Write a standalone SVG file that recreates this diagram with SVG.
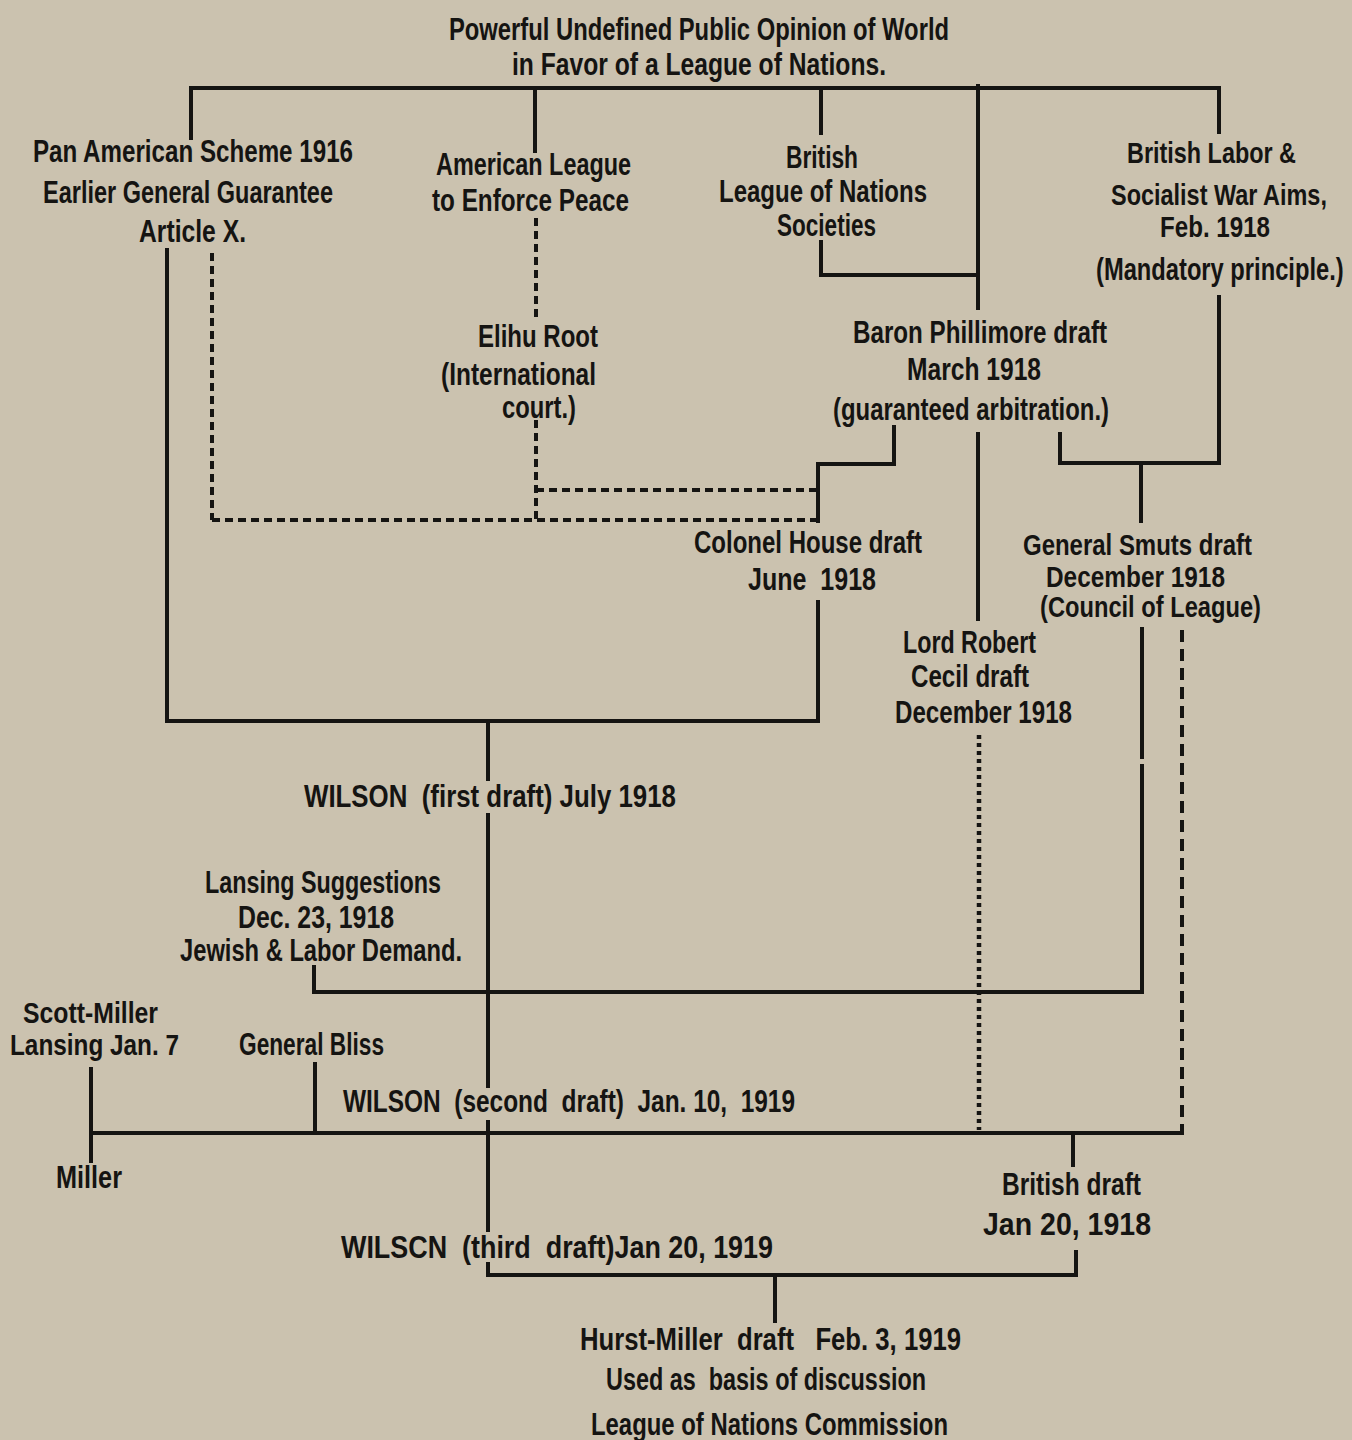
<svg xmlns="http://www.w3.org/2000/svg" width="1352" height="1440" viewBox="0 0 1352 1440">
<style>
text{font-family:"Liberation Sans Narrow","Liberation Sans",Arial,sans-serif;font-weight:bold;font-size:32px;fill:#151412;white-space:pre}
.s{font-size:29px}
.c line,.c polyline{stroke:#151412;stroke-width:4;fill:none}
.c .d{stroke-dasharray:8 5}
.c .dl{stroke-dasharray:12 7}
.c .dt{stroke-dasharray:4 4;stroke-width:4.5}
</style>
<rect width="1352" height="1440" fill="#cbc2af"/>
<g id="connectors" class="c">
<polyline points="191,140 191,88 1219,88 1219,134"/>
<line x1="535" y1="88" x2="535" y2="153"/>
<line x1="821" y1="88" x2="821" y2="135"/>
<line x1="978" y1="84" x2="978" y2="310"/>
<polyline points="821,240 821,275 978,275"/>
<polyline points="167,248 167,721 818,721 818,600"/>
<line x1="488" y1="721" x2="488" y2="781"/>
<line x1="488" y1="813" x2="488" y2="1088"/>
<line x1="488" y1="1120" x2="488" y2="1232"/>
<polyline points="488,1262 488,1275 1076,1275 1076,1250"/>
<line x1="775" y1="1275" x2="775" y2="1323"/>
<polyline points="894,425 894,464 818,464 818,523"/>
<line x1="978" y1="432" x2="978" y2="621"/>
<polyline points="1060,432 1060,463 1219,463 1219,295"/>
<line x1="1141" y1="463" x2="1141" y2="523"/>
<line x1="1142" y1="627" x2="1142" y2="759"/>
<polyline points="1142,764 1142,992 314,992 314,965"/>
<line x1="91" y1="1067" x2="91" y2="1163"/>
<line x1="315" y1="1062" x2="315" y2="1133"/>
<line x1="91" y1="1133" x2="1184" y2="1133"/>
<line x1="1073" y1="1133" x2="1073" y2="1167"/>
<line class="d" x1="212" y1="253" x2="212" y2="520"/>
<line class="d" x1="212" y1="520" x2="818" y2="520"/>
<line class="d" x1="536" y1="218" x2="536" y2="320"/>
<line class="d" x1="536" y1="420" x2="536" y2="520"/>
<line class="d" x1="536" y1="490" x2="818" y2="490"/>
<line class="dt" x1="979" y1="735" x2="979" y2="1130"/>
<line class="dl" x1="1182" y1="630" x2="1182" y2="1133"/>
</g>
<g id="n-public-opinion">
<text x="449" y="40" textLength="500" lengthAdjust="spacingAndGlyphs">Powerful Undefined Public Opinion of World</text>
<text x="512" y="75" textLength="374" lengthAdjust="spacingAndGlyphs">in Favor of a League of Nations.</text>
</g>
<g id="n-pan-american">
<text x="33" y="162" textLength="320" lengthAdjust="spacingAndGlyphs">Pan American Scheme 1916</text>
<text x="43" y="203" textLength="290" lengthAdjust="spacingAndGlyphs">Earlier General Guarantee</text>
<text x="139" y="242" textLength="107" lengthAdjust="spacingAndGlyphs">Article X.</text>
</g>
<g id="n-american-league">
<text x="436" y="175" textLength="195" lengthAdjust="spacingAndGlyphs">American League</text>
<text x="432" y="211" textLength="197" lengthAdjust="spacingAndGlyphs">to Enforce Peace</text>
</g>
<g id="n-british-league">
<text x="786" y="168" textLength="72" lengthAdjust="spacingAndGlyphs">British</text>
<text x="719" y="202" textLength="208" lengthAdjust="spacingAndGlyphs">League of Nations</text>
<text x="777" y="236" textLength="99" lengthAdjust="spacingAndGlyphs">Societies</text>
</g>
<g id="n-british-labor">
<text class="s" x="1127" y="163" textLength="169" lengthAdjust="spacingAndGlyphs">British Labor &amp;</text>
<text class="s" transform="translate(1111,205) scale(0.85,1)" x="0" y="0" textLength="254" lengthAdjust="spacingAndGlyphs">Socialist War Aims,</text>
<text class="s" x="1160" y="237" textLength="110" lengthAdjust="spacingAndGlyphs">Feb. 1918</text>
<text transform="translate(1096,280) scale(0.72,1)" x="0" y="0" textLength="344" lengthAdjust="spacingAndGlyphs">(Mandatory principle.)</text>
</g>
<g id="n-elihu-root">
<text x="478" y="347" textLength="120" lengthAdjust="spacingAndGlyphs">Elihu Root</text>
<text x="441" y="385" textLength="155" lengthAdjust="spacingAndGlyphs">(International</text>
<text x="502" y="418" textLength="74" lengthAdjust="spacingAndGlyphs">court.)</text>
</g>
<g id="n-phillimore">
<text x="853" y="343" textLength="254" lengthAdjust="spacingAndGlyphs">Baron Phillimore draft</text>
<text x="907" y="380" textLength="134" lengthAdjust="spacingAndGlyphs">March 1918</text>
<text x="833" y="420" textLength="276" lengthAdjust="spacingAndGlyphs">(guaranteed arbitration.)</text>
</g>
<g id="n-colonel-house">
<text x="694" y="553" textLength="228" lengthAdjust="spacingAndGlyphs">Colonel House draft</text>
<text x="748" y="590" textLength="128" lengthAdjust="spacingAndGlyphs">June  1918</text>
</g>
<g id="n-smuts">
<text class="s" x="1023" y="555" textLength="229" lengthAdjust="spacingAndGlyphs">General Smuts draft</text>
<text class="s" x="1046" y="587" textLength="179" lengthAdjust="spacingAndGlyphs">December 1918</text>
<text class="s" x="1040" y="617" textLength="221" lengthAdjust="spacingAndGlyphs">(Council of League)</text>
</g>
<g id="n-cecil">
<text x="903" y="653" textLength="133" lengthAdjust="spacingAndGlyphs">Lord Robert</text>
<text x="911" y="687" textLength="118" lengthAdjust="spacingAndGlyphs">Cecil draft</text>
<text x="895" y="723" textLength="177" lengthAdjust="spacingAndGlyphs">December 1918</text>
</g>
<g id="n-wilson-first">
<text x="304" y="807" textLength="372" lengthAdjust="spacingAndGlyphs">WILSON  (first draft) July 1918</text>
</g>
<g id="n-lansing-suggestions">
<text x="205" y="893" textLength="236" lengthAdjust="spacingAndGlyphs">Lansing Suggestions</text>
<text x="238" y="928" textLength="156" lengthAdjust="spacingAndGlyphs">Dec. 23, 1918</text>
<text x="180" y="961" textLength="282" lengthAdjust="spacingAndGlyphs">Jewish &amp; Labor Demand.</text>
</g>
<g id="n-scott-miller">
<text class="s" x="23" y="1023" textLength="135" lengthAdjust="spacingAndGlyphs">Scott-Miller</text>
<text class="s" x="10" y="1055" textLength="169" lengthAdjust="spacingAndGlyphs">Lansing Jan. 7</text>
</g>
<g id="n-bliss">
<text x="239" y="1055" textLength="145" lengthAdjust="spacingAndGlyphs">General Bliss</text>
</g>
<g id="n-wilson-second">
<text x="343" y="1112" textLength="452" lengthAdjust="spacingAndGlyphs">WILSON  (second  draft)  Jan. 10,  1919</text>
</g>
<g id="n-miller">
<text x="56" y="1188" textLength="66" lengthAdjust="spacingAndGlyphs">Miller</text>
</g>
<g id="n-british-draft">
<text x="1002" y="1195" textLength="139" lengthAdjust="spacingAndGlyphs">British draft</text>
<text x="983" y="1235" textLength="168" lengthAdjust="spacingAndGlyphs">Jan 20, 1918</text>
</g>
<g id="n-wilson-third">
<text x="341" y="1258" textLength="432" lengthAdjust="spacingAndGlyphs">WILSCN  (third  draft)Jan 20, 1919</text>
</g>
<g id="n-hurst-miller">
<text x="580" y="1350" textLength="381" lengthAdjust="spacingAndGlyphs">Hurst-Miller  draft   Feb. 3, 1919</text>
<text x="606" y="1390" textLength="320" lengthAdjust="spacingAndGlyphs">Used as  basis of discussion</text>
<text x="591" y="1435" textLength="357" lengthAdjust="spacingAndGlyphs">League of Nations Commission</text>
</g>
</svg>
